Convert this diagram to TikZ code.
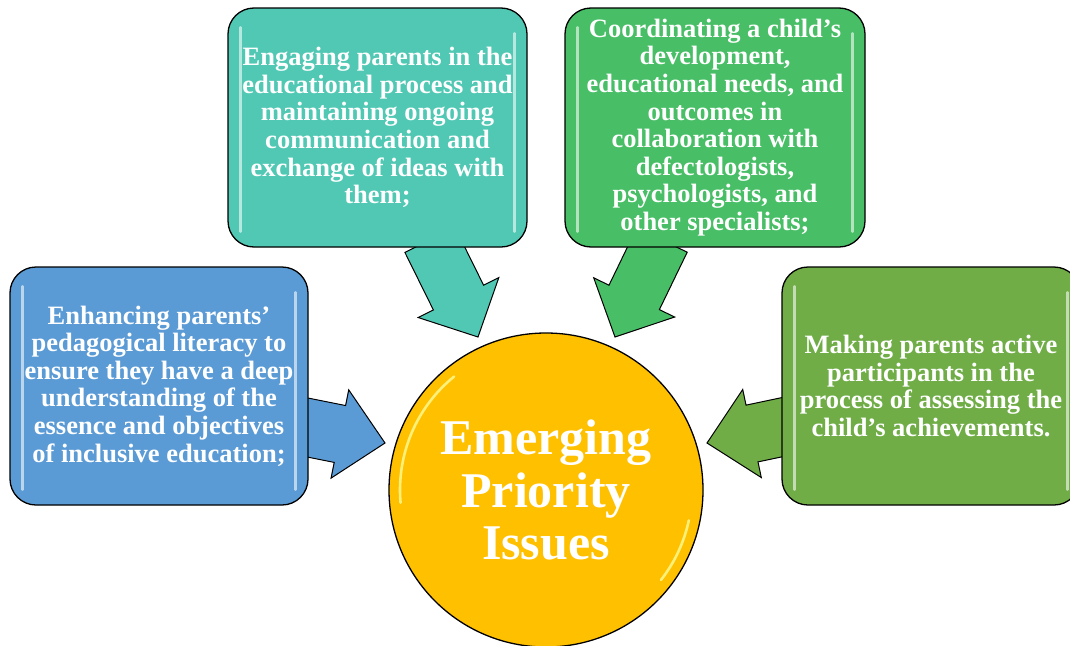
\documentclass[tikz,border=0pt]{standalone}
\usepackage{fontspec}
\setmainfont{Liberation Serif}
\usetikzlibrary{calc}
\definecolor{cblue}{RGB}{91,155,213}
\definecolor{cteal}{RGB}{80,200,180}
\definecolor{cgreen}{RGB}{72,190,102}
\definecolor{colive}{RGB}{112,173,71}
\definecolor{cgold}{RGB}{255,192,0}
\newcommand\blockarrow[6]{%
  \coordinate (#1-h) at ($(#2)!#5!(#1)$);
  \path[#6] ($(#1)!#3!90:(#2)$) -- ($(#1-h)!#3!-90:(#1)$) -- ($(#1-h)!#4!-90:(#1)$)
    -- (#2) -- ($(#1-h)!#4!90:(#1)$) -- ($(#1-h)!#3!90:(#1)$) -- ($(#1)!#3!-90:(#2)$) -- cycle;
}
\newcommand\gloss[2]{%
  \draw[hl=#2] ($(#1.north west)+(13,20)$) -- ($(#1.south west)+(13,-16)$);
  \draw[hl=#2] ($(#1.north east)+(-13,26)$) -- ($(#1.south east)+(-13,-16)$);
}
\tikzset{
  box/.style={draw=black, line width=1.3pt, rounded corners=26pt, text=white,
    align=center, inner sep=0pt, font=\bfseries\fontsize{26.5}{27.6}\selectfont},
  arr/.style={draw=black, line width=1pt, line join=miter, fill=#1},
  hl/.style={draw=#1!35!white, line width=2.6pt, line cap=round, opacity=0.9},
  gl/.style={draw=yellow!45!white, line width=2.6pt, line cap=round, opacity=0.85}
}
\begin{document}
\begin{tikzpicture}[x=1pt,y=-1pt]
\clip (0,0) rectangle (1070,645);
\fill[white] (0,0) rectangle (1070,645);

% arrow end points
\coordinate (aL) at (300,426);  \coordinate (tL) at (385,443);
\coordinate (aT) at (430,240);  \coordinate (tT) at (478,337);
\coordinate (aG) at (662,240);  \coordinate (tG) at (615,337);
\coordinate (aR) at (790,425.5);\coordinate (tR) at (707,443);

\blockarrow{aL}{tL}{29pt}{45pt}{46pt}{arr=cblue}
\blockarrow{aT}{tT}{28pt}{45pt}{44pt}{arr=cteal}
\blockarrow{aG}{tG}{28pt}{45pt}{44pt}{arr=cgreen}
\blockarrow{aR}{tR}{29pt}{45pt}{46pt}{arr=colive}

% boxes
\node[box, fill=cblue, minimum width=298pt, minimum height=238pt] (b1) at (159,386)
  {Enhancing parents’\\pedagogical literacy to\\ensure they have a deep\\understanding of the\\essence and objectives\\of inclusive education;};
\node[box, fill=cteal, minimum width=299pt, minimum height=239pt] (b2) at (377.5,127.5)
  {Engaging parents in the\\educational process and\\maintaining ongoing\\communication and\\exchange of ideas with\\them;};
\node[box, fill=cgreen, minimum width=300pt, minimum height=239pt] (b3) at (715,127.5)
  {Coordinating a child’s\\development,\\educational needs, and\\outcomes in\\collaboration with\\defectologists,\\psychologists, and\\other specialists;};
\node[box, fill=colive, minimum width=298pt, minimum height=238pt] (b4) at (931,386)
  {Making parents active\\participants in the\\process of assessing the\\child’s achievements.};

\gloss{b1}{cblue}
\gloss{b2}{cteal}
\gloss{b3}{cgreen}
\gloss{b4}{colive}

% centre circle
\node[circle, draw=black, line width=1.3pt, fill=cgold, minimum size=314pt, inner sep=0pt,
  text=white, align=center, font=\bfseries\fontsize{50}{52.5}\selectfont] (c) at (546,490)
  {Emerging\\Priority\\Issues};
\draw[gl] ($(c.center)+(-129:146)$) arc[start angle=-129, end angle=-185, radius=146];
\draw[gl] ($(c.center)+(12:146)$) arc[start angle=12, end angle=38, radius=146];
\end{tikzpicture}
\end{document}
